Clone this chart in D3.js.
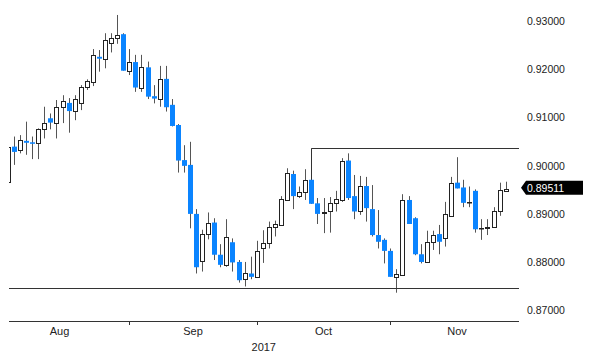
<!DOCTYPE html>
<html><head><meta charset="utf-8">
<script src="https://cdn.jsdelivr.net/npm/d3@7"></script>
<style>body{margin:0;background:#fff}svg{display:block}</style>
</head><body>
<script>
const dates = ["2017-08-04","2017-08-07","2017-08-08","2017-08-09","2017-08-10","2017-08-11","2017-08-14","2017-08-15","2017-08-16","2017-08-17","2017-08-18","2017-08-21","2017-08-22","2017-08-23","2017-08-24","2017-08-25","2017-08-28","2017-08-29","2017-08-30","2017-08-31",
"2017-09-01","2017-09-04","2017-09-05","2017-09-06","2017-09-07","2017-09-08","2017-09-11","2017-09-12","2017-09-13","2017-09-14","2017-09-15","2017-09-18","2017-09-19","2017-09-20","2017-09-21","2017-09-22","2017-09-25","2017-09-26","2017-09-27","2017-09-28","2017-09-29",
"2017-10-02","2017-10-03","2017-10-04","2017-10-05","2017-10-06","2017-10-09","2017-10-10","2017-10-11","2017-10-12","2017-10-13","2017-10-16","2017-10-17","2017-10-18","2017-10-19","2017-10-20","2017-10-23","2017-10-24","2017-10-25","2017-10-26","2017-10-27","2017-10-30","2017-10-31",
"2017-11-01","2017-11-02","2017-11-03","2017-11-06","2017-11-07","2017-11-08","2017-11-09","2017-11-10","2017-11-13","2017-11-14","2017-11-15","2017-11-16","2017-11-17","2017-11-20","2017-11-21","2017-11-22","2017-11-23","2017-11-24","2017-11-27","2017-11-28"];
const open = [0.8967,0.9040,0.9034,0.9052,0.9049,0.9047,0.9076,0.9099,0.9089,0.9122,0.9131,0.9114,0.9131,0.9164,0.9175,0.9227,0.9222,0.9255,0.9267,0.9274,
0.9198,0.9216,0.9161,0.9205,0.9145,0.9140,0.9181,0.9127,0.9085,0.9012,0.9002,0.8900,0.8802,0.8858,0.8882,0.8815,0.8794,0.8841,0.8800,0.8764,0.8776,
0.8769,0.8828,0.8839,0.8873,0.8877,0.8929,0.8983,0.8937,0.8946,0.8971,0.8922,0.8902,0.8905,0.8923,0.8929,0.9011,0.8937,0.8905,0.8958,0.8910,0.8856,0.8846,
0.8823,0.8769,0.8773,0.8929,0.8891,0.8816,0.8800,0.8841,0.8858,0.8849,0.8896,0.8965,0.8955,0.8925,0.8948,0.8870,0.8870,0.8873,0.8907,0.8948];
const high = [0.9045,0.9061,0.9064,0.9092,0.9061,0.9078,0.9123,0.9109,0.9137,0.9147,0.9141,0.9147,0.9168,0.9180,0.9243,0.9241,0.9276,0.9276,0.9314,0.9276,
0.9243,0.9231,0.9231,0.9217,0.9168,0.9208,0.9208,0.9139,0.9087,0.9043,0.9050,0.8910,0.8867,0.8903,0.8891,0.8837,0.8889,0.8849,0.8804,0.8800,0.8811,
0.8844,0.8866,0.8884,0.8886,0.8937,0.8995,0.8990,0.8957,0.8993,0.90365,0.8933,0.8933,0.8935,0.8948,0.9016,0.9026,0.8981,0.8979,0.8977,0.8960,0.8908,0.8849,
0.8828,0.8785,0.8941,0.8937,0.8893,0.8837,0.8865,0.8865,0.8877,0.8925,0.8977,0.9018,0.8971,0.8957,0.8951,0.8889,0.8889,0.8914,0.8965,0.8967];
const low = [0.8960,0.9002,0.9026,0.9023,0.9014,0.9014,0.9057,0.9076,0.9057,0.9089,0.9069,0.9095,0.9116,0.9158,0.9166,0.9196,0.9203,0.9236,0.9254,0.9198,
0.9189,0.9154,0.9154,0.9139,0.9130,0.9123,0.9113,0.9082,0.8986,0.8986,0.8870,0.8776,0.8780,0.8847,0.8804,0.8789,0.8790,0.8780,0.8757,0.8749,0.8764,
0.8769,0.8798,0.8828,0.8853,0.8877,0.8929,0.8910,0.8933,0.8929,0.8921,0.8879,0.8860,0.8861,0.8905,0.8925,0.8929,0.8889,0.8898,0.8884,0.8853,0.8828,0.8797,
0.8769,0.8736,0.8773,0.8879,0.8814,0.8797,0.8800,0.8825,0.8816,0.8832,0.8894,0.8953,0.8914,0.8914,0.8861,0.8846,0.8856,0.8873,0.8896,0.8948];
const close = [0.9040,0.9029,0.9054,0.9048,0.9046,0.9076,0.9089,0.9090,0.9123,0.9134,0.9114,0.9139,0.9165,0.9177,0.9231,0.9223,0.9261,0.9267,0.9273,0.9198,
0.9216,0.9163,0.9205,0.9144,0.9140,0.9181,0.9122,0.9083,0.9011,0.9000,0.8900,0.8789,0.8858,0.8882,0.8815,0.8794,0.8851,0.8799,0.8762,0.8776,0.8769,
0.8823,0.8839,0.8873,0.8879,0.8930,0.8986,0.8937,0.8946,0.8971,0.8921,0.8900,0.8903,0.8923,0.8930,0.9011,0.8933,0.8905,0.8958,0.8912,0.8856,0.8842,0.8823,
0.8769,0.8774,0.8929,0.8879,0.8816,0.8800,0.8841,0.8856,0.8842,0.8899,0.8964,0.8953,0.8923,0.8925,0.8868,0.8870,0.8873,0.8907,0.8950,0.89511];
const yTicks = [0.87,0.88,0.89,0.90,0.91,0.92,0.93];
const monthLabels = ["Aug","Sep","Oct","Nov"];
const monthStarts = ["2017-08-01","2017-09-01","2017-10-02","2017-11-01","2017-12-01"];
const yearLabel = "2017";
const supportLevel = 0.8746;
const resistanceLevel = 0.90365;
const resistanceStart = "2017-10-13";
const lastPrice = 0.89511;

const W = 600, H = 361;
const svg = d3.select("body").append("svg").attr("width", W).attr("height", H);
const fmt = d3.timeFormat("%Y-%m-%d");
const calendar = d3.timeDay.range(new Date(2017,7,1), new Date(2017,11,2))
  .filter(d => d.getDay() !== 0 && d.getDay() !== 6).map(fmt);
const step = 6.07;
const sepIdx = calendar.indexOf("2017-09-01");
const c0 = 129.3 - sepIdx*step;
const x = d3.scaleBand().domain(calendar)
  .range([c0 - step/2, c0 - step/2 + calendar.length*step]).padding(0);
const xc = d => x(d) + x.bandwidth()/2;
const y = d3.scaleLinear().domain([0.87, 0.93]).range([310, 21.7]);

const left = 9, right = 519;
svg.append("defs").append("clipPath").attr("id","clip")
  .append("rect").attr("x", left).attr("y", 0).attr("width", right-left).attr("height", 320);

const data = dates.map((d,i) => ({d, o:open[i], h:high[i], l:low[i], c:close[i]}));
const blue = "#0a84ff";
const g = svg.append("g").attr("clip-path","url(#clip)");

// horizontal levels
svg.append("line").attr("x1", left).attr("x2", right)
  .attr("y1", Math.round(y(supportLevel))+0.5).attr("y2", Math.round(y(supportLevel))+0.5)
  .attr("stroke","#333").attr("stroke-width",1);
svg.append("line").attr("x1", Math.round(xc(resistanceStart))+0.5).attr("x2", right)
  .attr("y1", Math.round(y(resistanceLevel))+0.5).attr("y2", Math.round(y(resistanceLevel))+0.5)
  .attr("stroke","#333").attr("stroke-width",1);

// wicks
g.selectAll("line.w").data(data).join("line").attr("class","w")
  .attr("x1", d => Math.round(xc(d.d))+0.5).attr("x2", d => Math.round(xc(d.d))+0.5)
  .attr("y1", d => y(d.h)).attr("y2", d => y(d.l))
  .attr("stroke", d => (d.d === resistanceStart) ? "#333" : "#555").attr("stroke-width",1);

// bodies
g.selectAll("rect.bear").data(data.filter(d => d.c < d.o)).join("rect").attr("class","bear")
  .attr("x", d => Math.round(xc(d.d)) - 2)
  .attr("width", 5)
  .attr("y", d => y(d.o)).attr("height", d => Math.max(1.5, y(d.c) - y(d.o)))
  .attr("fill", blue);
g.selectAll("rect.bull").data(data.filter(d => d.c >= d.o)).join("rect").attr("class","bull")
  .attr("x", d => Math.round(xc(d.d)) - 1.5)
  .attr("width", 4)
  .attr("y", d => Math.round(y(d.c)) + 0.5).attr("height", d => Math.max(0.5, Math.round(y(d.o)) - Math.round(y(d.c))))
  .attr("fill", "#fff").attr("stroke", "#222").attr("stroke-width", 1);

// x axis
svg.append("line").attr("x1", left).attr("x2", right).attr("y1", 321.5).attr("y2", 321.5)
  .attr("stroke","#333").attr("stroke-width",1);
monthStarts.forEach(m => {
  const px = Math.round(xc(m)) + 0.5;
  if (px > left + 2 && px < right - 2) {
    svg.append("line").attr("x1", px).attr("x2", px).attr("y1", 321).attr("y2", 325)
      .attr("stroke","#333");
  }
});
const font = "'Liberation Sans', Arial, sans-serif";
monthLabels.forEach((lab, i) => {
  const cx = (xc(monthStarts[i]) + xc(monthStarts[i+1])) / 2;
  svg.append("text").attr("x", cx).attr("y", 335).attr("text-anchor","middle")
    .attr("font-family", font).attr("font-size", 11).attr("fill","#222").text(lab);
});
svg.append("text").attr("x", xc("2017-10-02") + 7).attr("y", 351).attr("text-anchor","middle")
  .attr("font-family", font).attr("font-size", 11).attr("fill","#222").text(yearLabel);

// y axis labels
svg.selectAll("text.yt").data(yTicks).join("text").attr("class","yt")
  .attr("x", 527).attr("y", d => y(d)).attr("dy","0.35em")
  .attr("font-family", font).attr("font-size", 10.5).attr("fill","#222")
  .text(d => d.toFixed(5));

// last price tag
const yc = y(lastPrice) - 1.5;
svg.append("path")
  .attr("d", `M521,${yc} L526,${yc-7} L583,${yc-7} L583,${yc+7} L526,${yc+7} Z`)
  .attr("fill","#000");
svg.append("text").attr("x", 527).attr("y", yc).attr("dy","0.35em")
  .attr("font-family", font).attr("font-size", 10.5).attr("fill","#fff").text(lastPrice.toFixed(5));
</script>
</body></html>
